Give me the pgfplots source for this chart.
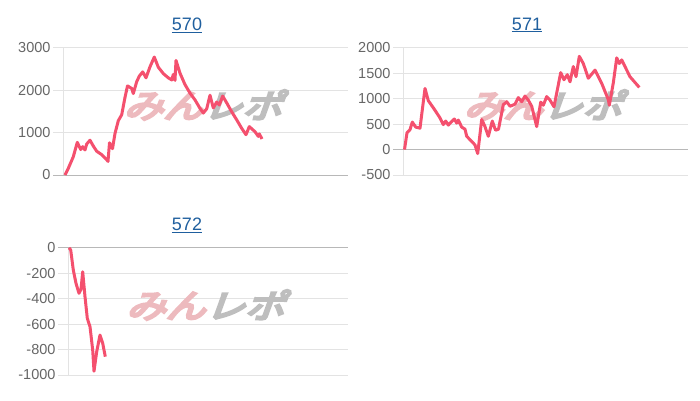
\documentclass[border=0pt]{standalone}
\usepackage{pgfplots}
\pgfplotsset{compat=1.18}
\usepackage{fontspec}
\setmainfont{Liberation Sans}
\newfontfamily\cjk[FakeSlant=0.3,FakeBold=7]{Noto Sans CJK JP}
\definecolor{lineRed}{HTML}{F4506E}
\definecolor{titleBlue}{HTML}{1F5F9E}
\definecolor{gridGray}{HTML}{E3E3E3}
\definecolor{zeroGray}{HTML}{B8B8B8}
\definecolor{tickGray}{HTML}{666666}
\definecolor{wmPink}{HTML}{EDBABE}
\definecolor{wmGray}{HTML}{BEBEBE}

\pgfplotsset{
  minichart/.style={
    scale only axis, width=285pt, height=127.3pt, anchor=south west,
    axis x line=none, axis y line*=left,
    y axis line style={gridGray, line width=1pt},
    xmin=0, xmax=285, xtick=\empty,
    ymajorgrids, grid style={gridGray, line width=1pt},
    tick align=outside, major tick length=10pt,
    ytick style={gridGray, line width=1pt},
    yticklabel style={font=\fontsize{14.5}{14.5}\selectfont, color=tickGray, xshift=1pt},
    /pgf/number format/assume math mode=true,
    /pgf/number format/1000 sep={},
    extra y ticks={0},
    extra y tick style={grid style={zeroGray, line width=1pt}, ytick style={zeroGray}},
  },
  series/.style={lineRed, line width=3pt, no markers, line join=round},
}
\newcommand{\wm}{\node[xscale=1.2] at (rel axis cs:0.49,0.55)
  {\cjk\fontsize{33}{33}\selectfont\textcolor{wmPink}{みん}\textcolor{wmGray}{レポ}};}
\newcommand{\ttl}[1]{{\fontsize{18}{18}\selectfont\color{titleBlue}\underline{#1}}}

\begin{document}
\begin{tikzpicture}
\useasboundingbox (0,0) rectangle (700pt,400pt);

% 570
\begin{axis}[minichart, at={(63pt,225pt)}, ymin=0, ymax=3000, ytick={1000,2000,3000}]
\wm
\addplot[series] coordinates {
 (2,0) (5.3,157) (10.3,431) (14.3,770) (17.7,600) (19.7,667) (22,590) (23.7,730)
 (27,820) (30.3,683) (33.7,560) (38.7,480) (43.7,360) (45,320) (46.5,760) (49.5,620)
 (52,980) (55.3,1280) (58.7,1420) (62,1830) (64.5,2100) (68.7,2040) (70.3,1920)
 (73.7,2200) (76.3,2330) (79.7,2430) (83,2290) (87,2550) (91.3,2780) (95.3,2540)
 (100.3,2390) (105.3,2290) (108.7,2240) (110.3,2370) (112,2230) (113,2700) (117,2400)
 (122,2130) (127,1930) (132,1770) (137,1570) (140.3,1460) (143.7,1560) (147,1880)
 (150.3,1580) (153.7,1720) (156.3,1650) (159.7,1860) (163.7,1700) (168.7,1490)
 (173.7,1300) (178.7,1100) (183,950) (186.3,1140) (192,1020) (195.3,910) (196.3,970)
 (199,850)
};
\end{axis}
\node at (187pt,375pt) {\ttl{570}};

% 571
\begin{axis}[minichart, at={(403pt,225pt)}, ymin=-500, ymax=2000, ytick={-500,500,1000,1500,2000}]
\wm
\addplot[series] coordinates {
 (1.5,0) (4,330) (7,390) (9.3,540) (12.7,440) (17,420) (22,1200) (25.3,960)
 (30.3,820) (33.7,720) (37,620) (40.3,490) (42.7,560) (45.3,480) (48.7,550)
 (51.3,600) (53.7,520) (55.3,580) (58.7,440) (62,400) (63.7,260) (68.7,160)
 (72,90) (74.7,-80) (78.7,590) (82,450) (85.3,260) (89.3,560) (92.5,380) (95.5,400)
 (100.3,880) (103.7,940) (107,850) (112,890) (115.3,1020) (118.7,940) (122,1050)
 (125.3,970) (128.7,850) (133.7,450) (137.7,930) (140.3,870) (143.7,1040) (147,970)
 (151,840) (157.7,1510) (161,1370) (164.3,1470) (167,1330) (170.3,1630) (173,1430)
 (176.3,1830) (180.3,1690) (185.3,1400) (192,1560) (198.7,1300) (205.3,980)
 (206.3,870) (210.3,1310) (213.7,1800) (216.3,1690) (218.7,1760) (227,1430) (236.3,1220)
};
\end{axis}
\node at (527pt,375pt) {\ttl{571}};

% 572
\begin{axis}[minichart, at={(68pt,25pt)}, width=280pt, xmax=280, ymin=-1000, ymax=0,
  ytick={-1000,-800,-600,-400,-200}]
\wm
\addplot[series] coordinates {
 (1,0) (2.7,-18) (5.3,-175) (8,-280) (11,-358) (13,-327) (14.7,-189) (17,-385)
 (19.3,-555) (22,-620) (24.7,-804) (26,-970) (28.7,-817) (32,-686) (34.7,-751) (37.3,-856)
};
\end{axis}
\node at (187pt,175pt) {\ttl{572}};
\end{tikzpicture}
\end{document}
